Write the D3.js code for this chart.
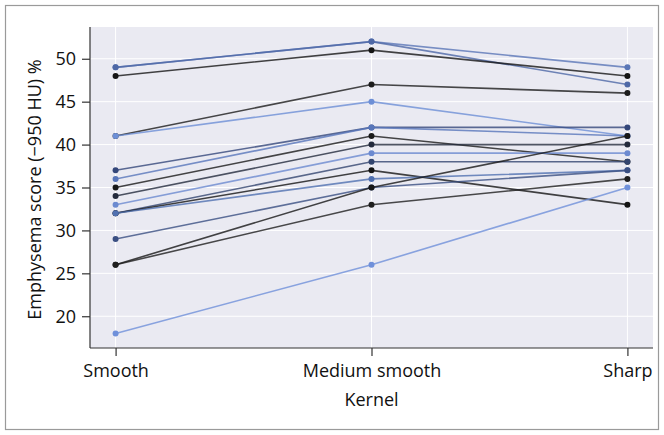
<!DOCTYPE html>
<html>
<head>
<meta charset="utf-8">
<script src="https://cdn.jsdelivr.net/npm/d3@7"></script>
<style>
  body { margin: 0; background: #fff; }
  svg text { font-family: "Open Sans", "Noto Sans", sans-serif; fill: #111; }
</style>
</head>
<body>
<div id="chart"></div>
<script>
// kernel categories on x axis
var categories = ["Smooth", "Medium smooth", "Sharp"];

// one entry per patient
var smoothScores = [49, 49, 48, 41, 41, 37, 36, 35, 34, 33, 32, 32, 32, 29, 26, 26, 18];
var mediumScores = [52, 52, 51, 47, 45, 42, 42, 41, 40, 39, 38, 37, 36, 35, 35, 33, 26];
var sharpScores  = [49, 47, 48, 46, 41, 42, 41, 38, 40, 39, 38, 33, 37, 37, 41, 36, 35];

var yTicks = [20, 25, 30, 35, 40, 45, 50];

// palette, dark -> blue
var lineColors = ["#5a76b6", "#4e68a6", "#151515", "#1c1c1c", "#6d8fd6",
    "#34477a", "#5876ba", "#191919", "#232a3c", "#6c8ad0",
    "#33456f", "#141414", "#5070b0", "#3a4f82", "#171717",
    "#1e1e1e", "#6f90da"];

var width = 664, height = 435;
var margin = { top: 27, right: 11, bottom: 87, left: 90 };
var plotW = width - margin.left - margin.right,
    plotH = height - margin.top - margin.bottom;

var svg = d3.select("#chart").append("svg")
    .attr("width", width)
    .attr("height", height);

// outer frame
svg.append("rect")
    .attr("x", 5.5).attr("y", 5.5)
    .attr("width", width - 11).attr("height", height - 11)
    .attr("fill", "none")
    .attr("stroke", "#9a9a9a")
    .attr("stroke-width", 1.2);

var g = svg.append("g")
    .attr("transform", "translate(" + margin.left + "," + margin.top + ")");

var x = d3.scaleLinear().domain([-0.1, 2.1]).range([0, plotW]);
var y = d3.scaleLinear().domain([16.3, 53.7]).range([plotH, 0]);

g.append("rect")
    .attr("width", plotW).attr("height", plotH)
    .attr("fill", "#eaeaf2");

// grid
g.selectAll(".hgrid").data(yTicks).enter().append("line")
    .attr("x1", 0).attr("x2", plotW)
    .attr("y1", function(d) { return y(d); })
    .attr("y2", function(d) { return y(d); })
    .attr("stroke", "#fff").attr("stroke-width", 1);

g.selectAll(".vgrid").data(categories).enter().append("line")
    .attr("x1", function(d, i) { return x(i); })
    .attr("x2", function(d, i) { return x(i); })
    .attr("y1", 0).attr("y2", plotH)
    .attr("stroke", "#fff").attr("stroke-width", 1);

// build patient rows
var patients = smoothScores.map(function(s, i) {
    return { color: lineColors[i], values: [s, mediumScores[i], sharpScores[i]] };
});

var line = d3.line()
    .x(function(d, i) { return x(i); })
    .y(function(d) { return y(d); });

var pg = g.selectAll(".patient").data(patients).enter().append("g");

pg.append("path")
    .attr("d", function(d) { return line(d.values); })
    .attr("fill", "none")
    .attr("stroke", function(d) { return d.color; })
    .attr("stroke-width", 1.6)
    .attr("stroke-opacity", 0.8);

pg.selectAll("circle")
    .data(function(d) { return d.values.map(function(v) { return { v: v, c: d.color }; }); })
    .enter().append("circle")
    .attr("cx", function(d, i) { return x(i); })
    .attr("cy", function(d) { return y(d.v); })
    .attr("r", 3)
    .attr("fill", function(d) { return d.c; });

// axes
var yAxis = g.append("g")
    .call(d3.axisLeft(y).tickValues(yTicks).tickSize(8).tickPadding(6));
var xAxis = g.append("g")
    .attr("transform", "translate(0," + plotH + ")")
    .call(d3.axisBottom(x).tickValues([0, 1, 2]).tickSize(8).tickPadding(8)
        .tickFormat(function(d) { return categories[d]; }));

[yAxis, xAxis].forEach(function(a) {
    a.select(".domain").attr("stroke", "#333").attr("stroke-width", 1.2);
    a.selectAll(".tick line").attr("stroke", "#333").attr("stroke-width", 1.2);
    a.selectAll("text").attr("font-size", 18).attr("fill", "#111");
});
// axis lines span the whole plot
xAxis.select(".domain").attr("d", "M0,0H" + plotW);
yAxis.select(".domain").attr("d", "M0,0V" + plotH);

// axis titles
svg.append("text")
    .attr("x", margin.left + x(1))
    .attr("y", 406)
    .attr("text-anchor", "middle")
    .attr("font-size", 18)
    .text("Kernel");

svg.append("text")
    .attr("transform", "translate(41," + (margin.top + plotH / 2 + 2) + ") rotate(-90)")
    .attr("text-anchor", "middle")
    .attr("font-size", 18)
    .text("Emphysema score (\u2212950 HU) %");
</script>
</body>
</html>
